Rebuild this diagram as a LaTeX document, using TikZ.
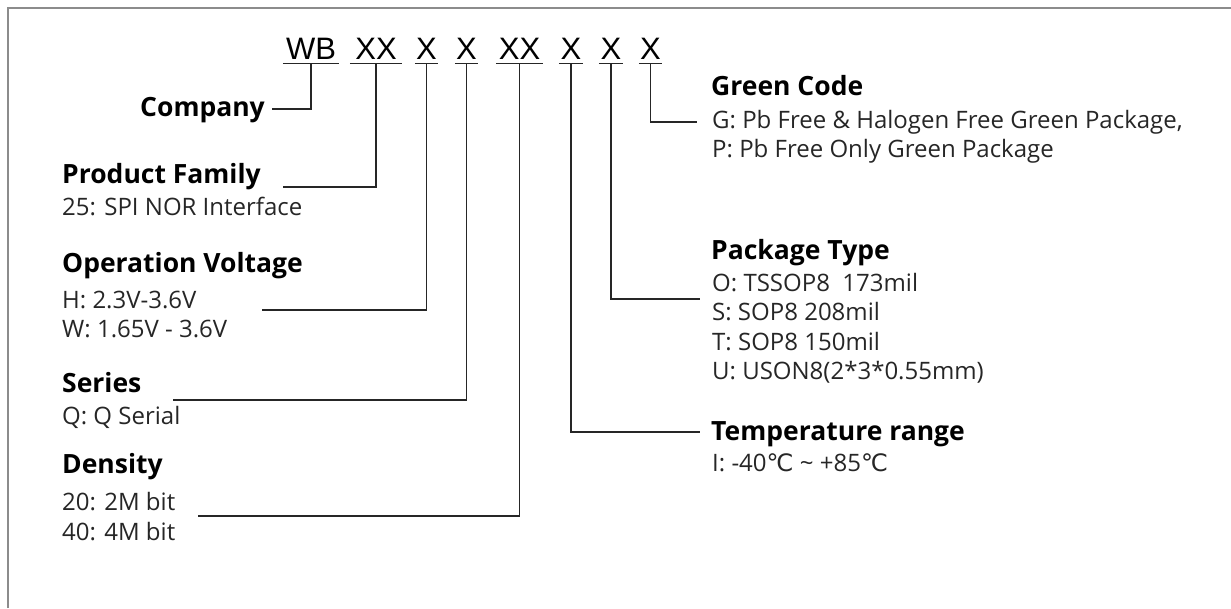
\documentclass[tikz,border=0pt]{standalone}
\usepackage{fontspec}
\setmainfont{Open Sans}
\newfontfamily\codefont{Liberation Sans}
\newfontfamily\symfont{DejaVu Sans}
\newcommand{\degC}{{\symfont ℃}}
\begin{document}
\begin{tikzpicture}[x=1pt,y=-1pt,
  seg/.style={font=\codefont\fontsize{31}{31}\selectfont, inner sep=0pt, text depth=4pt,
    anchor=base, append after command={(\tikzlastnode.south west) edge[conn] (\tikzlastnode.south east)}},
  conn/.style={draw=black!85, line width=1.4pt},
  ttl/.style={font=\bfseries\fontsize{26.5}{26.5}\selectfont, inner sep=0pt, anchor=base west},
  bdy/.style={font=\fontsize{24}{24}\selectfont, inner sep=0pt, anchor=base west, text=black!85},
  frame/.style={draw=black!45, line width=2pt}
]
\useasboundingbox (0,0) rectangle (1231,608);
\draw[frame] (8,608) -- (8,8) -- (1231,8);

% code row
\node[seg, minimum width=56pt] (wb)  at (311,59)   {WB};
\node[seg, minimum width=52pt] (xa)  at (376,59)   {XX};
\node[seg, minimum width=23pt] (xb)  at (426.5,59) {X};
\node[seg, minimum width=23pt] (xc)  at (466.5,59) {X};
\node[seg, minimum width=47pt] (xd)  at (519.5,59) {XX};
\node[seg, minimum width=24pt] (xe)  at (571,59)   {X};
\node[seg, minimum width=24pt] (xf)  at (611,59)   {X};
\node[seg, minimum width=23pt] (xg)  at (650.5,59) {X};

% left labels
\node[ttl, anchor=base east] (company) at (265,116) {Company};
\node[ttl] (pf)   at (62,183) {Product Family};
\node[bdy] (pfb)  at (62,215) {25: SPI NOR Interface};
\node[ttl] (ov)   at (62,272) {Operation Voltage};
\node[bdy] (ovh)  at (62,308) {H: 2.3V-3.6V};
\node[bdy] (ovw)  at (62,337) {W: 1.65V - 3.6V};
\node[ttl] (se)   at (62,392) {Series};
\node[bdy] (seb)  at (62,424) {Q: Q Serial};
\node[ttl] (de)   at (62,473) {Density};
\node[bdy] (de1)  at (62,510) {20: 2M bit};
\node[bdy] (de2)  at (62,540) {40: 4M bit};

% right labels
\node[ttl] (gc)   at (711,95)  {Green Code};
\node[bdy] (gc1)  at (712,128) {G: Pb Free \& Halogen Free Green Package,};
\node[bdy] (gc2)  at (712,157) {P: Pb Free Only Green Package};
\node[ttl] (pt)   at (711,259) {Package Type};
\node[bdy] (pt1)  at (712,291) {O: TSSOP8\ \ 173mil};
\node[bdy] (pt2)  at (712,320) {S: SOP8 208mil};
\node[bdy] (pt3)  at (712,350) {T: SOP8 150mil};
\node[bdy] (pt4)  at (712,379) {U: USON8(2*3*0.55mm)};
\node[ttl] (tr)   at (711,440) {Temperature range};
\node[bdy] (tr1)  at (712,471) {I: -40\degC\ \textasciitilde\ +85\degC};

% connector ends
\coordinate (ecomp) at (272,109);
\coordinate (epf)   at (283,187);
\coordinate (eov)   at (262,310);
\coordinate (ese)   at (173,400);
\coordinate (ede)   at (198,516);
\coordinate (etr)   at (700,432);
\coordinate (ept)   at (700,299);
\coordinate (egc)   at (697,122);

\draw[conn] (wb.south) |- (ecomp);
\draw[conn] (xa.south) |- (epf);
\draw[conn] (xb.south) |- (eov);
\draw[conn] (xc.south) |- (ese);
\draw[conn] (xd.south) |- (ede);
\draw[conn] (xe.south) |- (etr);
\draw[conn] (xf.south) |- (ept);
\draw[conn] (xg.south) |- (egc);
\end{tikzpicture}
\end{document}
